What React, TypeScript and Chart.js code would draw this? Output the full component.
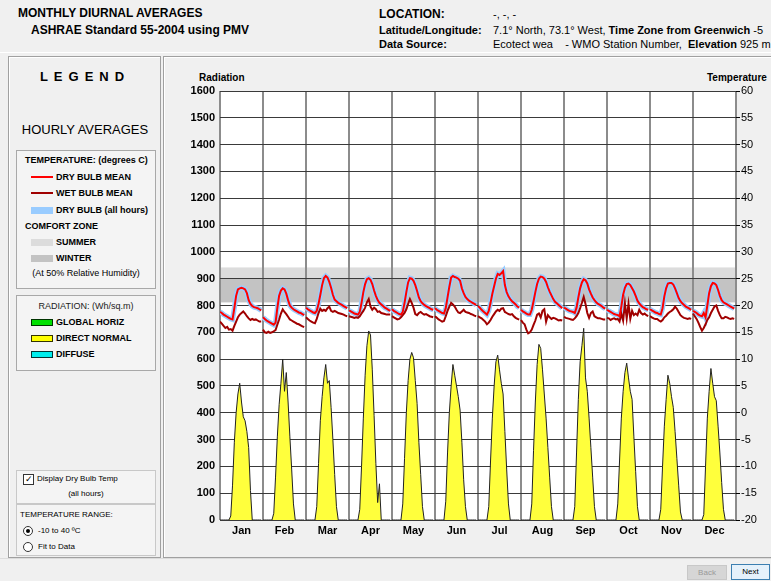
import React, { useEffect, useRef } from 'react';
import { Chart, registerables } from 'chart.js';
Chart.register(...registerables);

const MONTHS = ['Jan', 'Feb', 'Mar', 'Apr', 'May', 'Jun', 'Jul', 'Aug', 'Sep', 'Oct', 'Nov', 'Dec'];

// Hourly dry bulb mean (°C), hours 0..23 for each month
const DRY_JAN = [18.8, 18.6, 18.3, 18.1, 17.9, 17.7, 17.5, 17.4, 19.5, 21.8, 23.0, 23.2, 23.3, 23.2, 23.0, 22.3, 21.0, 20.3, 19.9, 19.7, 19.6, 19.5, 19.3, 19.1];
const DRY_FEB = [17.8, 17.5, 17.2, 17.0, 16.8, 16.6, 16.4, 16.8, 19.5, 21.8, 22.8, 23.2, 23.0, 22.2, 21.0, 20.0, 19.6, 19.3, 19.1, 18.9, 18.7, 18.6, 18.4, 18.2];
const DRY_MAR = [19.6, 19.3, 19.1, 18.9, 18.7, 18.6, 19.0, 20.3, 22.0, 23.8, 25.1, 25.5, 25.2, 24.4, 23.3, 22.0, 21.1, 20.8, 20.5, 20.3, 20.1, 19.9, 19.7, 19.5];
const DRY_APR = [19.1, 18.9, 18.7, 18.5, 18.4, 18.3, 18.8, 20.5, 22.5, 24.0, 24.9, 25.1, 24.8, 24.0, 22.8, 21.8, 21.0, 20.5, 20.2, 19.9, 19.6, 19.4, 19.2, 19.0];
const DRY_MAY = [19.3, 19.0, 18.8, 18.6, 18.4, 18.3, 18.8, 20.5, 22.5, 24.3, 25.1, 25.0, 24.6, 23.8, 22.7, 21.5, 20.8, 20.4, 20.1, 19.9, 19.7, 19.5, 19.3, 19.2];
const DRY_JUN = [19.5, 19.2, 19.0, 18.8, 18.6, 18.5, 19.5, 21.5, 23.5, 25.2, 25.5, 25.3, 25.2, 25.0, 24.6, 23.2, 22.3, 21.6, 21.2, 20.9, 20.7, 20.5, 20.3, 20.1];
const DRY_JUL = [19.9, 19.6, 19.2, 18.9, 18.6, 18.3, 19.0, 20.5, 22.2, 23.6, 25.0, 25.9, 25.7, 26.0, 26.4, 23.8, 22.5, 21.7, 21.2, 20.8, 20.5, 20.2, 19.8, 19.6];
const DRY_AUG = [19.2, 18.9, 18.7, 18.5, 18.3, 18.3, 19.2, 20.8, 22.5, 24.0, 25.0, 25.4, 25.3, 25.0, 24.4, 23.4, 22.6, 21.9, 21.2, 20.7, 20.4, 20.1, 19.8, 19.5];
const DRY_SEP = [19.6, 19.4, 19.2, 19.0, 18.9, 18.8, 18.6, 19.6, 21.5, 23.2, 24.3, 24.9, 24.7, 24.1, 23.0, 22.2, 21.5, 21.0, 20.6, 20.3, 20.1, 19.9, 19.6, 19.4];
const DRY_OCT = [19.2, 19.0, 18.8, 18.6, 18.4, 18.3, 18.2, 18.0, 19.8, 22.0, 23.3, 24.0, 24.1, 23.8, 23.2, 22.6, 21.8, 20.9, 20.4, 20.0, 19.7, 19.5, 19.3, 19.2];
const DRY_NOV = [19.3, 19.1, 18.9, 18.7, 18.6, 18.4, 18.3, 19.5, 21.7, 23.2, 24.1, 24.2, 24.2, 23.9, 23.2, 22.3, 21.4, 20.8, 20.4, 20.1, 19.8, 19.6, 19.4, 19.2];
const DRY_DEC = [19.0, 18.8, 18.6, 18.3, 18.1, 18.0, 18.6, 17.8, 20.0, 22.3, 23.6, 24.2, 24.1, 23.8, 22.9, 21.8, 21.0, 20.6, 20.4, 20.2, 20.0, 19.8, 19.6, 19.4];

// Hourly wet bulb mean (°C)
const WET_JAN = [17.0, 16.6, 16.2, 15.8, 16.0, 15.5, 15.6, 15.3, 16.2, 17.0, 17.8, 18.3, 18.6, 18.9, 18.5, 18.0, 17.6, 17.3, 17.5, 17.3, 17.4, 17.2, 17.0, 17.0];
const WET_FEB = [15.5, 15.0, 14.9, 15.1, 14.9, 15.0, 15.2, 15.4, 16.4, 17.4, 18.5, 19.3, 18.8, 18.4, 17.9, 17.4, 17.2, 17.0, 16.8, 16.6, 16.5, 16.3, 16.1, 16.0];
const WET_MAR = [17.8, 17.5, 17.2, 17.0, 16.8, 16.7, 17.5, 18.6, 19.4, 19.0, 19.2, 19.0, 19.5, 19.8, 19.0, 18.8, 19.0, 18.8, 18.6, 18.5, 18.4, 18.3, 18.1, 18.0];
const WET_APR = [18.0, 17.9, 17.8, 17.7, 17.8, 17.7, 18.0, 18.5, 19.0, 19.6, 20.6, 21.2, 19.8, 19.2, 19.6, 19.3, 18.8, 18.9, 18.6, 18.5, 18.4, 18.3, 18.3, 18.3];
const WET_MAY = [18.0, 17.8, 17.6, 17.4, 17.5, 17.8, 18.2, 18.6, 19.3, 20.3, 21.2, 20.5, 19.6, 18.4, 18.2, 18.6, 18.8, 18.5, 18.3, 18.4, 18.2, 18.0, 17.9, 17.8];
const WET_JUN = [18.0, 17.7, 17.4, 17.2, 17.0, 17.1, 18.0, 19.0, 19.8, 20.5, 20.2, 19.8, 19.2, 18.7, 18.6, 18.9, 19.2, 18.8, 18.7, 18.6, 18.4, 18.3, 18.1, 18.0];
const WET_JUL = [18.0, 17.8, 17.6, 17.3, 17.0, 16.5, 16.8, 17.3, 17.9, 18.4, 18.9, 19.2, 19.0, 19.4, 19.5, 18.8, 18.6, 18.4, 18.3, 18.4, 18.0, 17.7, 17.5, 17.4];
const WET_AUG = [17.3, 16.8, 16.5, 15.5, 14.8, 15.0, 15.5, 16.4, 17.2, 18.3, 18.5, 17.8, 19.0, 19.3, 17.0, 18.2, 17.8, 17.5, 17.7, 17.6, 17.4, 17.2, 17.3, 17.2];
const WET_SEP = [17.9, 17.7, 17.6, 17.5, 17.4, 17.3, 17.6, 18.0, 18.6, 19.5, 20.5, 21.6, 20.3, 18.6, 17.7, 18.6, 18.9, 18.0, 17.8, 17.6, 17.6, 17.5, 17.4, 17.4];
const WET_OCT = [17.7, 17.6, 17.3, 17.5, 17.6, 17.4, 17.5, 17.0, 18.5, 17.2, 20.4, 17.6, 20.3, 17.5, 19.0, 18.2, 18.5, 18.2, 19.2, 18.6, 18.3, 18.5, 18.2, 18.0];
const WET_NOV = [18.0, 17.8, 17.6, 17.5, 17.5, 17.2, 17.0, 17.3, 17.8, 18.1, 18.5, 18.8, 19.0, 19.3, 19.8, 19.4, 18.8, 18.2, 17.9, 17.7, 17.6, 17.5, 17.6, 17.5];
const WET_DEC = [18.5, 18.0, 17.5, 16.8, 16.0, 15.3, 15.8, 16.5, 17.3, 17.8, 18.6, 19.2, 19.8, 20.0, 19.0, 18.2, 17.6, 17.6, 17.9, 17.8, 17.6, 17.5, 17.6, 17.5];

// Hourly direct normal radiation (Wh/sq.m)
const DN_JAN = [0, 0, 0, 0, 0, 0, 15, 130, 290, 400, 470, 510, 440, 385, 370, 330, 270, 110, 0, 0, 0, 0, 0, 0];
const DN_FEB = [0, 0, 0, 0, 0, 0, 25, 160, 310, 430, 510, 600, 480, 550, 440, 310, 190, 60, 0, 0, 0, 0, 0, 0];
const DN_MAR = [0, 0, 0, 0, 0, 0, 50, 210, 370, 460, 530, 580, 510, 520, 420, 300, 170, 50, 0, 0, 0, 0, 0, 0];
const DN_APR = [0, 0, 0, 0, 0, 0, 40, 200, 380, 540, 650, 705, 690, 560, 390, 210, 65, 135, 0, 0, 0, 0, 0, 0];
const DN_MAY = [0, 0, 0, 0, 0, 0, 60, 230, 400, 520, 600, 625, 605, 520, 435, 290, 170, 50, 0, 0, 0, 0, 0, 0];
const DN_JUN = [0, 0, 0, 0, 0, 0, 70, 250, 400, 500, 580, 540, 500, 460, 410, 290, 150, 50, 0, 0, 0, 0, 0, 0];
const DN_JUL = [0, 0, 0, 0, 0, 0, 50, 220, 380, 500, 590, 615, 560, 510, 470, 330, 190, 60, 0, 0, 0, 0, 0, 0];
const DN_AUG = [0, 0, 0, 0, 0, 0, 60, 260, 440, 580, 655, 640, 560, 470, 380, 270, 160, 50, 0, 0, 0, 0, 0, 0];
const DN_SEP = [0, 0, 0, 0, 0, 0, 50, 250, 450, 590, 650, 715, 530, 480, 380, 270, 160, 50, 0, 0, 0, 0, 0, 0];
const DN_OCT = [0, 0, 0, 0, 0, 0, 60, 220, 380, 480, 550, 585, 530, 480, 450, 310, 180, 50, 0, 0, 0, 0, 0, 0];
const DN_NOV = [0, 0, 0, 0, 0, 0, 40, 200, 350, 450, 540, 510, 460, 420, 330, 230, 130, 30, 0, 0, 0, 0, 0, 0];
const DN_DEC = [0, 0, 0, 0, 0, 0, 20, 200, 380, 480, 565, 510, 460, 445, 350, 250, 140, 40, 0, 0, 0, 0, 0, 0];

const DRY_BULB = [DRY_JAN, DRY_FEB, DRY_MAR, DRY_APR, DRY_MAY, DRY_JUN, DRY_JUL, DRY_AUG, DRY_SEP, DRY_OCT, DRY_NOV, DRY_DEC];
const WET_BULB = [WET_JAN, WET_FEB, WET_MAR, WET_APR, WET_MAY, WET_JUN, WET_JUL, WET_AUG, WET_SEP, WET_OCT, WET_NOV, WET_DEC];
const DIRECT_NORMAL = [DN_JAN, DN_FEB, DN_MAR, DN_APR, DN_MAY, DN_JUN, DN_JUL, DN_AUG, DN_SEP, DN_OCT, DN_NOV, DN_DEC];

const RAD_MIN = 0;
const RAD_MAX = 1600;
const RAD_STEP = 100;
const TEMP_MIN = -20;
const TEMP_MAX = 60;
const TEMP_STEP = 5;
const SUMMER_ZONE = [20.6, 27.1];
const WINTER_ZONE = [20.6, 25.0];

function toSeries(rows: number[][]) {
  const out: { x: number; y: number | null }[] = [];
  rows.forEach((row, m) => {
    row.forEach((v, h) => out.push({ x: m * 24 + h, y: v }));
    out.push({ x: m * 24 + 23.5, y: null });
  });
  return out;
}

const FONT = 'Arial, "Liberation Sans", sans-serif';

function ChartPanel() {
  const ref = useRef<HTMLCanvasElement | null>(null);
  useEffect(() => {
    if (!ref.current) return;
    const bands = {
      id: 'bands',
      beforeDraw(chart: any) {
        const { ctx, chartArea } = chart;
        const t = chart.scales.y2;
        ctx.save();
        ctx.fillStyle = '#ffffff';
        ctx.fillRect(chartArea.left, chartArea.top, chartArea.right - chartArea.left, chartArea.bottom - chartArea.top);
        const band = (z: number[], c: string) => {
          const y1 = t.getPixelForValue(z[1]);
          const y0 = t.getPixelForValue(z[0]);
          ctx.fillStyle = c;
          ctx.fillRect(chartArea.left, y1, chartArea.right - chartArea.left, y0 - y1);
        };
        band(SUMMER_ZONE, '#dcdcdc');
        band(WINTER_ZONE, '#c3c3c3');
        ctx.restore();
      },
    };
    const chart = new Chart(ref.current, {
      type: 'line',
      data: {
        datasets: [
          { label: 'Dry bulb mean', data: toSeries(DRY_BULB), yAxisID: 'y2', borderColor: '#ff0000', borderWidth: 2, pointRadius: 0, tension: 0, fill: false },
          { label: 'Wet bulb mean', data: toSeries(WET_BULB), yAxisID: 'y2', borderColor: '#a00000', borderWidth: 2, pointRadius: 0, tension: 0, fill: false },
          { label: 'Dry bulb (all hours)', data: toSeries(DRY_BULB), yAxisID: 'y2', borderColor: '#99ccff', borderWidth: 5, pointRadius: 0, tension: 0, fill: false },
          { label: 'Direct normal', data: toSeries(DIRECT_NORMAL), yAxisID: 'y', borderColor: '#222222', borderWidth: 1, backgroundColor: '#ffff3c', pointRadius: 0, tension: 0, fill: 'origin' },
        ],
      },
      options: {
        animation: false,
        responsive: false,
        events: [],
        layout: { padding: { top: 29, left: 0, right: 0, bottom: 0 } },
        plugins: { legend: { display: false }, tooltip: { enabled: false } },
        scales: {
          x: {
            type: 'linear',
            min: 0,
            max: 288,
            afterBuildTicks: (s: any) => {
              const t = [];
              for (let v = 0; v <= 288; v += 12) t.push({ value: v });
              s.ticks = t;
            },
            afterFit: (s: any) => { s.height = 32; },
            border: { display: false },
            grid: {
              drawTicks: false,
              color: (c: any) => (c.tick && c.tick.value % 24 === 0 ? '#8c8c8c' : 'rgba(0,0,0,0)'),
              lineWidth: 2,
            },
            ticks: {
              autoSkip: false,
              maxRotation: 0,
              padding: 4,
              color: '#000',
              font: { family: FONT, size: 11, weight: 'bold' },
              callback: (v: any) => (v % 24 === 12 ? MONTHS[(v - 12) / 24] : ''),
            },
          },
          y: {
            position: 'left',
            min: RAD_MIN,
            max: RAD_MAX,
            afterFit: (s: any) => { s.width = 55; },
            border: { display: false },
            grid: { drawTicks: false, color: '#3a3a3a', lineWidth: 1 },
            ticks: { stepSize: RAD_STEP, padding: 5, color: '#000', font: { family: FONT, size: 11, weight: 'bold' }, callback: (v: any) => String(v) },
          },
          y2: {
            position: 'right',
            min: TEMP_MIN,
            max: TEMP_MAX,
            afterFit: (s: any) => { s.width = 35; },
            border: { display: false },
            grid: { drawOnChartArea: false, drawTicks: true, tickLength: 4, color: '#000' },
            ticks: { stepSize: TEMP_STEP, padding: 1, color: '#000', font: { family: FONT, size: 11 }, callback: (v: any) => String(v) },
          },
        },
      },
      plugins: [bands],
    } as any);
    return () => chart.destroy();
  }, []);
  return <canvas ref={ref} width={606} height={490} style={{ position: 'absolute', left: 165, top: 62, width: 606, height: 490 }} />;
}

const abs = (l: number, t: number, extra: any = {}) => ({ position: 'absolute' as const, left: l, top: t, whiteSpace: 'nowrap' as const, ...extra });

function LegendLine({ top, color, label }: { top: number; color: string; label: string }) {
  return (
    <>
      <div style={abs(31, top - 1, { width: 22, height: 2, background: color })} />
      <div style={abs(56, top - 6, { fontSize: 9, fontWeight: 'bold', lineHeight: '12px' })}>{label}</div>
    </>
  );
}
function LegendRect({ top, color, label, border }: { top: number; color: string; label: string; border?: string }) {
  return (
    <>
      <div style={abs(31, top - 3, { width: border ? 20 : 22, height: border ? 5 : 7, background: color, border: border ? `1px solid ${border}` : 'none' })} />
      <div style={abs(56, top - 6, { fontSize: 9, fontWeight: 'bold', lineHeight: '12px' })}>{label}</div>
    </>
  );
}

export default function App() {
  return (
    <div style={{ position: 'absolute', left: 0, top: 0, width: 771, height: 581, overflow: 'hidden', background: '#f0f0f0', fontFamily: FONT, color: '#000' }}>
      {/* Header */}
      <div style={abs(18, 5, { fontSize: 12, fontWeight: 'bold', lineHeight: '16px' })}>MONTHLY DIURNAL AVERAGES</div>
      <div style={abs(31, 22, { fontSize: 12, fontWeight: 'bold', lineHeight: '16px' })}>ASHRAE Standard 55-2004 using PMV</div>
      <div style={abs(379, 6, { fontSize: 12, fontWeight: 'bold', lineHeight: '16px' })}>LOCATION:</div>
      <div style={abs(493, 6, { fontSize: 11, lineHeight: '16px' })}>-, -, -</div>
      <div style={abs(379, 23, { fontSize: 11, fontWeight: 'bold', lineHeight: '14px' })}>Latitude/Longitude:</div>
      <div style={abs(493, 23, { fontSize: 11, lineHeight: '14px' })}>7.1° North, 73.1° West, <b>Time Zone from Greenwich</b> -5</div>
      <div style={abs(379, 37, { fontSize: 11, fontWeight: 'bold', lineHeight: '14px' })}>Data Source:</div>
      <div style={abs(493, 37, { fontSize: 11, lineHeight: '14px' })}>Ecotect wea&nbsp;&nbsp;&nbsp; - WMO Station Number,&nbsp; <b>Elevation</b> 925 m</div>
      <div style={abs(0, 52, { width: 771, height: 1, background: '#ffffff' })} />

      {/* Left panel */}
      <div style={abs(8, 56, { width: 151, height: 500, border: '1px solid #a0a0a0', boxShadow: 'inset 1px 1px 0 #fff' })} />
      <div style={abs(10, 69, { width: 150, textAlign: 'center', fontSize: 13, fontWeight: 'bold', letterSpacing: 6, lineHeight: '16px' })}>LEGEND</div>
      <div style={abs(10, 122, { width: 150, textAlign: 'center', fontSize: 13, lineHeight: '16px' })}>HOURLY AVERAGES</div>

      <div style={abs(16, 150, { width: 138, height: 137, border: '1px solid #a8a8a8', background: '#f4f4f4' })} />
      <div style={abs(25, 154, { fontSize: 9, fontWeight: 'bold', lineHeight: '12px' })}>TEMPERATURE: (degrees C)</div>
      <LegendLine top={177} color="#ff0000" label="DRY BULB MEAN" />
      <LegendLine top={193} color="#a00000" label="WET BULB MEAN" />
      <LegendRect top={210} color="#99ccff" label="DRY BULB (all hours)" />
      <div style={abs(25, 220, { fontSize: 9, fontWeight: 'bold', lineHeight: '12px' })}>COMFORT ZONE</div>
      <LegendRect top={242} color="#dcdcdc" label="SUMMER" />
      <LegendRect top={258} color="#c3c3c3" label="WINTER" />
      <div style={abs(16, 267, { width: 140, textAlign: 'center', fontSize: 9, lineHeight: '12px' })}>(At 50% Relative Humidity)</div>

      <div style={abs(16, 295, { width: 138, height: 74, border: '1px solid #a8a8a8', background: '#f4f4f4' })} />
      <div style={abs(16, 300, { width: 140, textAlign: 'center', fontSize: 9, lineHeight: '12px', color: '#222' })}>RADIATION: (Wh/sq.m)</div>
      <LegendRect top={322} color="#00e000" border="#003300" label="GLOBAL HORIZ" />
      <LegendRect top={338} color="#ffff00" border="#333300" label="DIRECT NORMAL" />
      <LegendRect top={354} color="#00eeee" border="#003333" label="DIFFUSE" />

      <div style={abs(16, 470, { width: 138, height: 32, border: '1px solid #c8c8c8', background: '#f4f4f4' })} />
      <div style={abs(23, 474, { width: 9, height: 9, border: '1px solid #333', background: '#fff', fontSize: 9, lineHeight: '9px', textAlign: 'center' })}>✓</div>
      <div style={abs(37, 473, { fontSize: 8, lineHeight: '11px' })}>Display Dry Bulb Temp</div>
      <div style={abs(16, 488, { width: 140, textAlign: 'center', fontSize: 8, lineHeight: '11px' })}>(all hours)</div>
      <div style={abs(16, 504, { width: 138, height: 50, border: '1px solid #c8c8c8', background: '#f4f4f4' })} />
      <div style={abs(20, 509, { fontSize: 8, lineHeight: '11px' })}>TEMPERATURE RANGE:</div>
      <div style={abs(23, 526, { width: 8, height: 8, border: '1px solid #333', borderRadius: 6, background: '#fff' })}>
        <div style={{ position: 'absolute', left: 2, top: 2, width: 4, height: 4, borderRadius: 3, background: '#000' }} />
      </div>
      <div style={abs(38, 525, { fontSize: 8, lineHeight: '11px' })}>-10 to 40 ºC</div>
      <div style={abs(23, 542, { width: 8, height: 8, border: '1px solid #333', borderRadius: 6, background: '#fff' })} />
      <div style={abs(38, 541, { fontSize: 8, lineHeight: '11px' })}>Fit to Data</div>

      {/* Chart panel */}
      <div style={abs(163, 56, { width: 607, height: 500, border: '1px solid #a0a0a0', boxShadow: 'inset 1px 1px 0 #fff' })} />
      <div style={abs(199, 72, { fontSize: 10, fontWeight: 'bold', lineHeight: '12px' })}>Radiation</div>
      <div style={abs(707, 72, { fontSize: 10, fontWeight: 'bold', lineHeight: '12px' })}>Temperature</div>
      <ChartPanel />

      {/* Bottom bar */}
      <div style={abs(0, 558, { width: 771, height: 1, background: '#dcdcdc' })} />
      <div style={abs(687, 565, { width: 38, height: 13, border: '1px solid #c8c8c8', background: '#d6d6d6', color: '#999', fontSize: 8, lineHeight: '13px', textAlign: 'center' })}>Back</div>
      <div style={abs(731, 564, { width: 37, height: 14, border: '1px solid #3c7fb1', background: '#e5f1fb', color: '#000', fontSize: 8, lineHeight: '14px', textAlign: 'center' })}>Next</div>
    </div>
  );
}
